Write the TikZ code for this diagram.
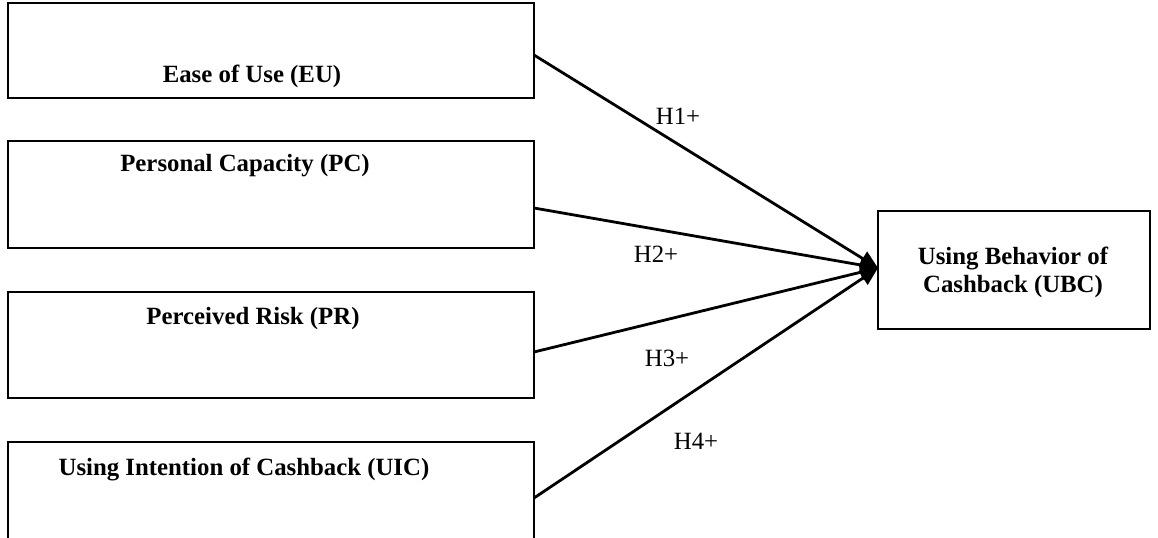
\documentclass[tikz,border=0pt]{standalone}
\usepackage{fontspec}
\setmainfont{Liberation Serif}
\usetikzlibrary{arrows.meta}
\begin{document}
\begin{tikzpicture}[x=0.5pt,y=-0.5pt,
  box/.style={draw,line width=1pt,inner sep=0pt},
  lbl/.style={font=\bfseries\fontsize{12.4}{14}\selectfont,inner sep=0pt,align=center},
  hyp/.style={font=\fontsize{12.4}{14}\selectfont,inner sep=0pt},
  conn/.style={line width=1.4pt,-{Triangle[length=9pt,width=8pt]}}]
\useasboundingbox (0,0) rectangle (1158,537);
\clip (0,0) rectangle (1158,537);
\node[box,minimum width=263pt,minimum height=47.5pt] (eu) at (271,50.5) {};
\node[box,minimum width=263pt,minimum height=53.5pt] (pc) at (271,194.5) {};
\node[box,minimum width=263pt,minimum height=53pt] (pr) at (271,345) {};
\node[box,minimum width=263pt,minimum height=60pt] (uic) at (271,502) {};
\node[box,minimum width=136pt,minimum height=59pt] (ubc) at (1014,270) {};
\node[lbl] (eut) at (252,76) {Ease of Use (EU)};
\node[lbl] (pct) at (245,166) {Personal Capacity (PC)};
\node[lbl] (prt) at (253,319) {Perceived Risk (PR)};
\node[lbl] (uict) at (244,469) {Using Intention of Cashback (UIC)};
\node[lbl] (ubct) at (1013,272) {Using Behavior of\\Cashback (UBC)};
\coordinate (tip) at (878,268);
\coordinate (e1) at (534,55);
\coordinate (e2) at (534,208);
\coordinate (e3) at (534,352);
\coordinate (e4) at (534,498);
\draw[conn] (e1) -- (tip);
\draw[conn] (e2) -- (tip);
\draw[conn] (e3) -- (tip);
\draw[conn] (e4) -- (tip);
\node[hyp] (h1) at (678,116) {H1+};
\node[hyp] (h2) at (656,254) {H2+};
\node[hyp] (h3) at (667,358) {H3+};
\node[hyp] (h4) at (696,441) {H4+};
\end{tikzpicture}
\end{document}
